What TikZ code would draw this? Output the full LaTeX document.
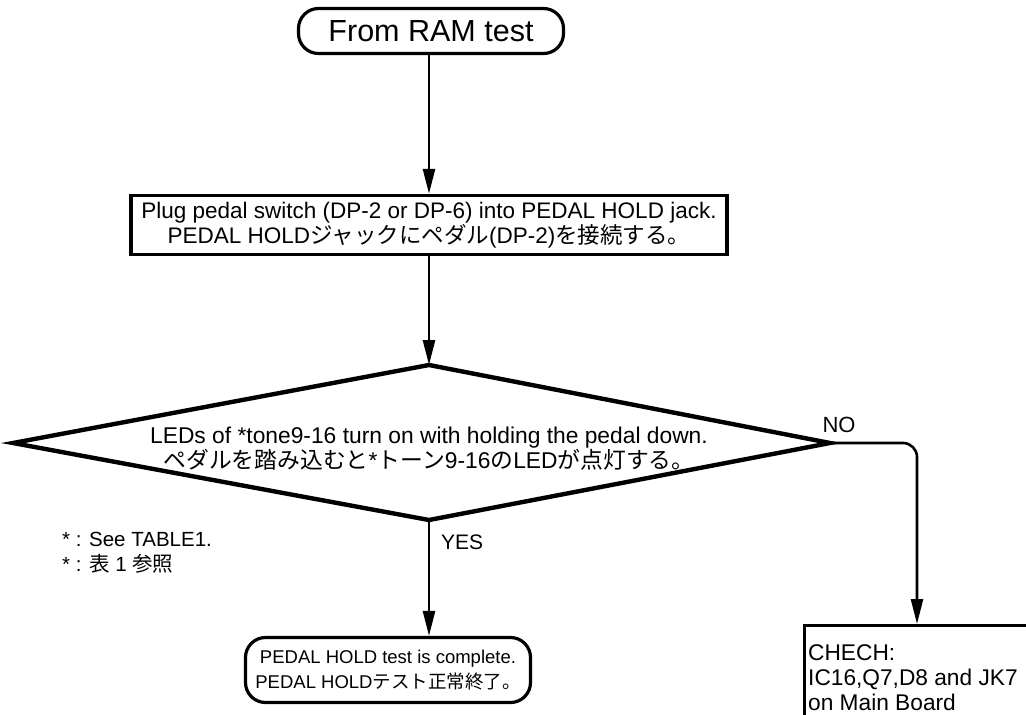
\documentclass[tikz,border=0pt]{standalone}
\usepackage{fontspec}
\setmainfont{Liberation Sans}
\newfontfamily\jp{Noto Sans CJK JP}
\usetikzlibrary{arrows.meta,calc}

\newcommand{\J}[1]{{\jp #1}}

\tikzset{
  terminal/.style={draw, line width=3.2pt, rounded corners=20pt, inner sep=0pt, align=center},
  procbox/.style={draw, line width=3.4pt, inner sep=0pt, align=center},
  checkbox/.style={draw, line width=3.2pt, inner sep=0pt, anchor=north west},
  conn/.style={line width=2.6pt, -{Triangle[length=25pt,width=12pt]}},
  decision/.style={line width=4.4pt, line join=miter},
  lbl/.style={inner sep=0pt}
}

\begin{document}
\begin{tikzpicture}[x=1pt,y=-1pt]
  \clip (0,0) rectangle (1026,715);
  \fill[white] (0,0) rectangle (1026,715);

  % start terminal
  \node[terminal, minimum width=265pt, minimum height=45pt,
        font=\fontsize{30.5}{34}\selectfont] (start) at (431,31) {From RAM test};

  % connection step
  \node[procbox, minimum width=596pt, minimum height=59pt,
        font=\fontsize{22.5}{25}\selectfont] (proc) at (429,225)
    {Plug pedal switch (DP-2 or DP-6) into PEDAL HOLD jack.\\
     PEDAL HOLD\J{ジャックにペダル}(DP-2)\J{を接続する。}};

  % decision diamond
  \coordinate (dL) at (13,443);
  \coordinate (dT) at (429,365);
  \coordinate (dR) at (830,443);
  \coordinate (dB) at (429,520);
  \draw[decision] (dL) -- (dT) -- (dR) -- (dB) -- cycle;
  \node[lbl, align=center, font=\fontsize{22.8}{25}\selectfont] (q) at (429,449)
    {LEDs of *tone9-16 turn on with holding the pedal down.\\
     \J{ペダルを踏み込むと}*\J{トーン}9-16\J{の}LED\J{が点灯する。}};

  % end terminal
  \node[terminal, minimum width=285pt, minimum height=65pt,
        font=\fontsize{18.5}{25}\selectfont] (done) at (388,670)
    {PEDAL HOLD test is complete.\\
     PEDAL HOLD\J{テスト正常終了。}};

  % check box (runs off the page edge)
  \node[checkbox, minimum width=260pt, minimum height=120pt] (chk) at (803,624) {};
  \node[lbl, anchor=north west, align=left, font=\fontsize{22.7}{25}\selectfont]
    (chktxt) at ($(chk.north west)+(5,20)$)
    {CHECH:\\IC16,Q7,D8 and JK7\\on Main Board};
  \coordinate (chkin) at (917,624);

  % connectors
  \draw[conn] (start.south -| dT) -- (proc.north);
  \draw[conn] (proc.south) -- (dT);
  \draw[conn] (dB) -- (dB |- done.north);
  \draw[conn, rounded corners=14pt] (dR) -| (chkin);

  % branch labels
  \node[lbl, font=\fontsize{22}{22}\selectfont] (no) at (839,425) {NO};
  \node[lbl, anchor=west, font=\fontsize{21}{21}\selectfont] (yes) at (441,542) {YES};

  % footnote
  \node[lbl, anchor=west, align=left, font=\fontsize{20.5}{25}\selectfont] (note) at (62,553)
    {* : See TABLE1.\\* : \J{表} 1 \J{参照}};
\end{tikzpicture}
\end{document}
